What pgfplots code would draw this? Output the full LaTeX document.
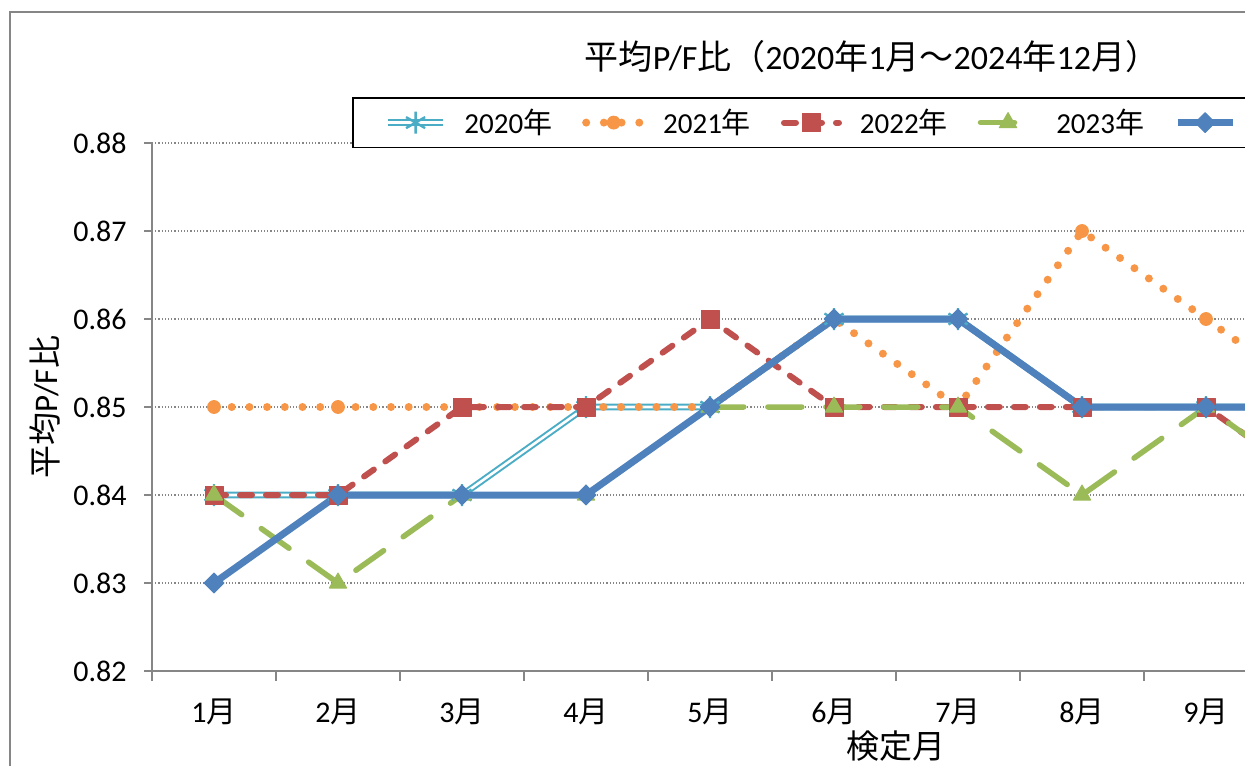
\documentclass[border=0pt]{standalone}
\usepackage{fontspec}
\setmainfont{Carlito}
\newfontfamily\jp{Noto Sans CJK JP}
\newcommand{\J}[1]{{\jp #1}}
\usepackage{pgfplots}
\pgfplotsset{compat=1.18}
\definecolor{c20}{HTML}{4BACC6}
\definecolor{c21}{HTML}{F79646}
\definecolor{c22}{HTML}{C0504D}
\definecolor{c23}{HTML}{9BBB59}
\definecolor{c24}{HTML}{4F81BD}
\definecolor{axgray}{HTML}{868686}
\begin{document}
\begin{tikzpicture}
\useasboundingbox (0,0) rectangle (622.5pt,382.5pt);
\clip (0,0) rectangle (622.5pt,382.5pt);
\draw[color=axgray, line width=1pt] (5pt,-20pt) -- (5pt,376.5pt) -- (700pt,376.5pt);
\node[font=\fontsize{17}{20}\selectfont] at (436pt,354pt) {\J{平均}P/F\J{比（}2020\J{年}1\J{月～}2024\J{年}12\J{月）}};
\begin{axis}[
 at={(76pt,47pt)}, anchor=south west,
 scale only axis, width=744pt, height=264pt,
 xmin=0.5, xmax=12.5, ymin=0.82, ymax=0.88,
 axis x line*=bottom, axis y line*=left,
 axis line style={-, draw=axgray, line width=1pt},
 xtick={1,...,9},
 xticklabels={1\J{月},2\J{月},3\J{月},4\J{月},5\J{月},6\J{月},7\J{月},8\J{月},9\J{月}},
 minor xtick={0.5,1.5,...,12.5},
 ytick={0.82,0.83,0.84,0.85,0.86,0.87,0.88},
 /pgf/number format/assume math mode=true,
 yticklabel style={/pgf/number format/fixed, /pgf/number format/fixed zerofill, /pgf/number format/precision=2, anchor=east, inner sep=0pt, xshift=-8.5pt},
 xticklabel style={anchor=base, inner sep=0pt, yshift=-21.5pt},
 tick align=outside,
 major tick length=4pt, minor tick length=5pt,
 tick style={draw=axgray, line width=1pt},
 major x tick style={draw=none},
 ymajorgrids, grid style={draw=axgray, line width=0.6pt, dash pattern=on 0.6pt off 1pt},
 tick label style={font=\fontsize{15}{18}\selectfont},
 xlabel={\J{検定月}},
 xlabel style={at={(axis description cs:0.5,-0.142)}, anchor=center, font=\fontsize{16.5}{19}\selectfont},
 ylabel={\J{平均}P/F\J{比}},
 ylabel style={at={(axis description cs:-0.0719,0.5)}, anchor=center, font=\fontsize{16.5}{19}\selectfont},
 legend columns=5,
 legend image code/.code={\draw[mark repeat=2,mark phase=2,#1] plot coordinates {(0pt,0pt) (13.75pt,0pt) (27.5pt,0pt)};},
 legend style={at={(axis description cs:0.1344,1.087)}, anchor=north west, draw=black, line width=0.8pt, inner xsep=16pt, inner ysep=5.5pt, font=\fontsize{14.5}{17}\selectfont, nodes={inner sep=0pt}, /tikz/every odd column/.append style={column sep=9pt}, /tikz/every even column/.append style={column sep=15pt}},
 legend cell align=left,
]
\addplot[c20, line width=1pt, double=white, double distance=1.3pt, mark=asterisk, mark size=5.5pt, mark options={solid, line width=1.2pt, c20}]
 coordinates {(1,0.84)(2,0.84)(3,0.84)(4,0.85)(5,0.85)(6,0.86)(7,0.86)(8,0.85)(9,0.85)(10,0.85)};
\addlegendentry{2020\J{年}}
\addplot[c21, line width=4pt, line cap=round, dash pattern=on 0pt off 8.85pt, mark=*, mark size=3.2pt, mark options={solid, line width=0.5pt, c21}]
 coordinates {(1,0.85)(2,0.85)(3,0.85)(4,0.85)(5,0.85)(6,0.86)(7,0.85)(8,0.87)(9,0.86)(10,0.85)};
\addlegendentry{2021\J{年}}
\addplot[c22, line width=3pt, line cap=round, line join=round, dash pattern=on 6pt off 7pt, mark=square*, mark size=4.5pt, mark options={solid, line width=0.5pt, c22}]
 coordinates {(1,0.84)(2,0.84)(3,0.85)(4,0.85)(5,0.86)(6,0.85)(7,0.85)(8,0.85)(9,0.85)(10,0.84)};
\addlegendentry{2022\J{年}}
\addplot[c23, line width=2.75pt, line cap=round, line join=round, dash pattern=on 17pt off 12pt, mark=triangle*, mark size=5pt, mark options={solid, line width=0.5pt, c23}]
 coordinates {(1,0.84)(2,0.83)(3,0.84)(4,0.84)(5,0.85)(6,0.85)(7,0.85)(8,0.84)(9,0.85)(10,0.84)};
\addlegendentry{2023\J{年}}
\addplot[c24, line width=3.5pt, line join=round, mark=square*, mark size=3.5pt, mark options={solid, line width=0.5pt, rotate=45, c24}]
 coordinates {(1,0.83)(2,0.84)(3,0.84)(4,0.84)(5,0.85)(6,0.86)(7,0.86)(8,0.85)(9,0.85)(10,0.85)};
\addlegendentry{2024\J{年}}
\end{axis}
\end{tikzpicture}
\end{document}
